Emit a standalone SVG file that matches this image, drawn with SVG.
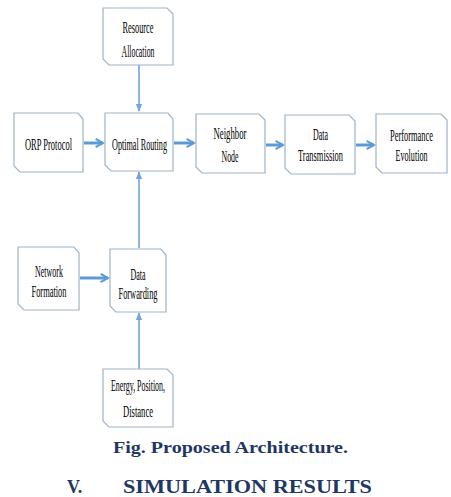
<svg xmlns="http://www.w3.org/2000/svg" width="451" height="497" viewBox="0 0 451 497">
  <style>
    .box { fill: #ffffff; stroke: #9fb4c8; stroke-width: 1.2; }
    .lbl { font-family: "Liberation Serif", serif; font-size: 16px; fill: #000000; text-anchor: middle; }
    .thick { stroke: #5b9bd5; stroke-width: 3; fill: none; }
    .thin { stroke: #6fa5da; stroke-width: 1.6; fill: none; }
    .cap { font-family: "Liberation Serif", serif; font-weight: bold; fill: #1f3763; }
  </style>
  <defs>
    <marker id="chev" viewBox="0 0 10 10" refX="8" refY="5" markerWidth="3.5" markerHeight="4.4" orient="auto" markerUnits="strokeWidth">
      <path d="M1,1 L8,5 L1,9" fill="none" stroke="#5b9bd5" stroke-width="2"/>
    </marker>
    <marker id="tri" viewBox="0 0 10 10" refX="9" refY="5" markerWidth="5" markerHeight="5" orient="auto" markerUnits="strokeWidth">
      <path d="M0,1 L10,5 L0,9 Z" fill="#6fa5da"/>
    </marker>
  </defs>
  <rect width="451" height="497" fill="#ffffff"/>

  <!-- connectors -->
  <g id="connectors">
    <line class="thick" x1="84" y1="143" x2="103" y2="143" marker-end="url(#chev)"/>
    <line class="thick" x1="174" y1="143" x2="194" y2="143" marker-end="url(#chev)"/>
    <line class="thick" x1="266" y1="145" x2="283" y2="145" marker-end="url(#chev)"/>
    <line class="thick" x1="356" y1="145" x2="374" y2="145" marker-end="url(#chev)"/>
    <line class="thick" x1="80" y1="278" x2="108" y2="278" marker-end="url(#chev)"/>
    <line class="thin" x1="139" y1="65" x2="139" y2="111" marker-end="url(#tri)"/>
    <line class="thin" x1="139" y1="248" x2="139" y2="172" marker-end="url(#tri)"/>
    <line class="thin" x1="139" y1="369" x2="139" y2="313" marker-end="url(#tri)"/>
  </g>

  <!-- nodes: boxes with snipped top-right and bottom-left corners -->
  <g id="resource-allocation">
    <path class="box" d="M103,8 H167 L173,14 V65 H109 L103,59 Z"/>
    <text class="lbl" x="138" y="33" textLength="31" lengthAdjust="spacingAndGlyphs">Resource</text>
    <text class="lbl" x="138" y="57" textLength="33" lengthAdjust="spacingAndGlyphs">Allocation</text>
  </g>
  <g id="orp-protocol">
    <path class="box" d="M14,113 H78 L83,119 V172 H20 L14,166 Z"/>
    <text class="lbl" x="48.5" y="150" textLength="47" lengthAdjust="spacingAndGlyphs">ORP Protocol</text>
  </g>
  <g id="optimal-routing">
    <path class="box" d="M105,113 H168 L173,119 V171 H111 L105,165 Z"/>
    <text class="lbl" x="139.5" y="150" textLength="55" lengthAdjust="spacingAndGlyphs">Optimal Routing</text>
  </g>
  <g id="neighbor-node">
    <path class="box" d="M196,114 H259 L265,120 V173 H202 L196,167 Z"/>
    <text class="lbl" x="230" y="139" textLength="33" lengthAdjust="spacingAndGlyphs">Neighbor</text>
    <text class="lbl" x="230" y="162" textLength="17" lengthAdjust="spacingAndGlyphs">Node</text>
  </g>
  <g id="data-transmission">
    <path class="box" d="M285,115 H349 L355,121 V174 H291 L285,168 Z"/>
    <text class="lbl" x="320.5" y="140" textLength="15" lengthAdjust="spacingAndGlyphs">Data</text>
    <text class="lbl" x="320.5" y="161" textLength="45" lengthAdjust="spacingAndGlyphs">Transmission</text>
  </g>
  <g id="performance-evolution">
    <path class="box" d="M376,114 H441 L447,120 V173 H382 L376,167 Z"/>
    <text class="lbl" x="411.5" y="141" textLength="43" lengthAdjust="spacingAndGlyphs">Performance</text>
    <text class="lbl" x="411.5" y="161" textLength="32" lengthAdjust="spacingAndGlyphs">Evolution</text>
  </g>
  <g id="network-formation">
    <path class="box" d="M18,247 H74 L79,253 V310 H24 L18,304 Z"/>
    <text class="lbl" x="49" y="277" textLength="28" lengthAdjust="spacingAndGlyphs">Network</text>
    <text class="lbl" x="49" y="297" textLength="35" lengthAdjust="spacingAndGlyphs">Formation</text>
  </g>
  <g id="data-forwarding">
    <path class="box" d="M110,249 H161 L166,255 V312 H116 L110,306 Z"/>
    <text class="lbl" x="138" y="280" textLength="15" lengthAdjust="spacingAndGlyphs">Data</text>
    <text class="lbl" x="138" y="299" textLength="39" lengthAdjust="spacingAndGlyphs">Forwarding</text>
  </g>
  <g id="energy-position-distance">
    <path class="box" d="M103,369 H167 L173,375 V427 H109 L103,421 Z"/>
    <text class="lbl" x="138" y="391" textLength="54" lengthAdjust="spacingAndGlyphs">Energy, Position,</text>
    <text class="lbl" x="138" y="417" textLength="30" lengthAdjust="spacingAndGlyphs">Distance</text>
  </g>

  <!-- caption and section heading -->
  <text class="cap" x="113" y="453" font-size="17" textLength="235" lengthAdjust="spacingAndGlyphs">Fig. Proposed Architecture.</text>
  <text class="cap" x="67" y="493" font-size="18">V.</text>
  <text class="cap" x="123" y="493" font-size="18" textLength="249" lengthAdjust="spacingAndGlyphs">SIMULATION RESULTS</text>
</svg>
